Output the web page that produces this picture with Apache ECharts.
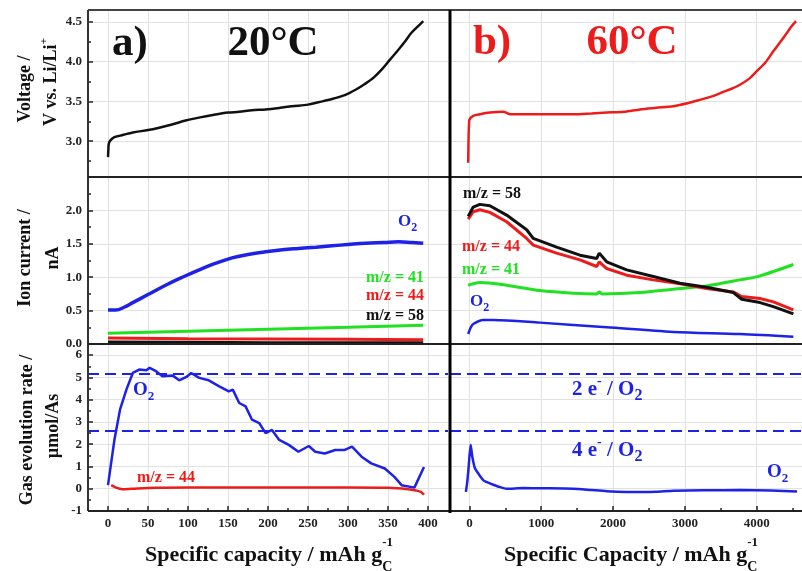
<!DOCTYPE html>
<html><head><meta charset="utf-8">
<script src="https://cdn.jsdelivr.net/npm/echarts@6/dist/echarts.min.js"></script>
<style>html,body{margin:0;padding:0;background:#fff}#c{width:802px;height:571px}</style>
</head><body><div id="c"></div>
<script>
// ---------- DATA ----------
// a) 20°C voltage profile
const voltA_x = [0,0.5,1,3,8,15,31,50,64,80,97,115,131,150,164,180,197,215,230,250,263,280,296,310,321,332,342,352,363,371,379,387,394];
const voltA_y = [2.80,2.90,2.97,3.01,3.05,3.07,3.11,3.14,3.17,3.21,3.26,3.30,3.33,3.36,3.37,3.39,3.40,3.42,3.44,3.46,3.49,3.53,3.58,3.65,3.72,3.80,3.90,4.02,4.15,4.25,4.36,4.44,4.51];
// b) 60°C voltage profile
const voltB_x = [-17,-14,-10,-5,0,53,150,285,471,564,800,982,1200,1446,1700,1911,2150,2375,2600,2839,3050,3210,3400,3535,3650,3767,3900,4000,4120,4231,4330,4418,4480,4547];
const voltB_y = [2.73,2.90,3.10,3.22,3.27,3.32,3.34,3.36,3.37,3.34,3.34,3.34,3.34,3.34,3.35,3.36,3.37,3.40,3.42,3.44,3.48,3.52,3.57,3.62,3.66,3.71,3.79,3.88,3.99,4.13,4.25,4.36,4.44,4.51];
// a) ion currents
const ionA_x = [0,10,20,31,50,72,95,114,135,155,175,197,218,238,260,280,300,322,345,363,380,394];
const ionA_O2 = [0.51,0.51,0.55,0.62,0.74,0.88,1.01,1.11,1.21,1.29,1.34,1.38,1.41,1.43,1.45,1.47,1.49,1.51,1.52,1.53,1.52,1.51];
const ionA_lx = [0,100,200,300,394];
const ionA_m41 = [0.16,0.19,0.22,0.25,0.28];
const ionA_m44 = [0.09,0.08,0.075,0.07,0.065];
const ionA_m58 = [0.03,0.025,0.02,0.02,0.02];
// b) ion currents
const ionB_x = [-17,53,146,285,518,797,889,1214,1539,1772,1808,1911,2189,2560,2932,3303,3674,3791,4046,4231,4510];
const ionB_m58 = [1.91,2.05,2.09,2.07,1.93,1.71,1.58,1.45,1.33,1.28,1.36,1.23,1.11,1.01,0.91,0.85,0.77,0.67,0.62,0.56,0.45];
const ionB_m44 = [1.87,1.98,2.01,1.97,1.83,1.58,1.48,1.36,1.26,1.16,1.23,1.13,1.03,0.96,0.90,0.83,0.78,0.71,0.68,0.63,0.51];
const ionB41_x = [-17,146,518,982,1446,1772,1808,1850,2375,2839,3303,3767,4046,4510];
const ionB_m41 = [0.88,0.92,0.88,0.80,0.76,0.75,0.78,0.75,0.77,0.82,0.87,0.96,1.02,1.19];
const ionBO2_x = [-17,20,53,192,332,982,1911,2839,3767,4510];
const ionB_O2 = [0.15,0.25,0.30,0.36,0.36,0.32,0.25,0.18,0.15,0.11];
// a) gas evolution rates
const gasA_x = [0,8,15,23,31,39,48,52,60,68,81,89,98,104,114,126,139,151,156,164,172,180,189,197,205,214,226,238,251,259,271,284,296,305,317,329,346,358,367,383,395];
const gasA_O2 = [0.16,2.19,3.55,4.45,5.20,5.35,5.32,5.43,5.28,5.05,5.08,4.87,5.02,5.20,4.98,4.87,4.60,4.37,4.45,3.85,3.70,3.10,2.95,2.50,2.64,2.19,1.97,1.66,1.92,1.66,1.58,1.74,1.74,1.89,1.44,1.14,0.91,0.53,0.16,0.05,0.98];
const gasA44_x = [4,10,18,30,60,100,200,300,350,375,385,391,395];
const gasA_m44 = [0.16,0.05,-0.02,0.0,0.04,0.05,0.05,0.05,0.04,-0.02,-0.08,-0.14,-0.27];
// b) gas evolution rate
const gasB_x = [-49,-30,-10,17,40,77,123,192,260,332,420,518,750,1000,1446,1700,1911,2375,2600,2839,3303,3767,4200,4560];
const gasB_O2 = [-0.14,0.3,1.0,1.97,1.45,0.92,0.69,0.39,0.27,0.18,0.08,0.0,0.03,0.02,0.0,-0.06,-0.11,-0.15,-0.14,-0.09,-0.07,-0.06,-0.08,-0.12];
// reference rates (2 e-/O2 and 4 e-/O2)
const refRates = [5.18, 2.59];
// ticks
const xTicksA = [0,50,100,150,200,250,300,350,400];
const xMinorA = [25,75,125,175,225,275,325,375];
const xTicksB = [0,1000,2000,3000,4000];
const xMinorB = [500,1500,2500,3500,4500];
const yTicksV = [3.0,3.5,4.0,4.5];
const yMinorV = [2.75,3.25,3.75,4.25];
const yTicksI = [0,0.5,1.0,1.5,2.0];
const yMinorI = [0.25,0.75,1.25,1.75,2.25];
const yTicksG = [-1,0,1,2,3,4,5,6];
const yMinorG = [-0.5,0.5,1.5,2.5,3.5,4.5,5.5];

// ---------- STYLE / LAYOUT ----------
const FF = '"Liberation Serif","Times New Roman",serif';
const C_BLUE='#1e22e6', C_RED='#ee1b1b', C_GREEN='#22e022', C_BLACK='#111111';
const zip = (a,b)=>a.slice(0,Math.min(a.length,b.length)).map((v,i)=>[v,b[i]]);

const grids = [
  {left:88, top:10, width:360, height:167},
  {left:88, top:177, width:360, height:167},
  {left:88, top:344, width:360, height:167},
  {left:450, top:10, width:352, height:167},
  {left:450, top:177, width:352, height:167},
  {left:450, top:344, width:352, height:167}
].map(g=>Object.assign({show:false, containLabel:false, outerBoundsMode:'none'}, g));

const xRangeA=[-25,425], xRangeB=[-270,4630];
const yRanges=[[2.55,4.65],[0,2.5],[-1,6.5]];
const yMaj=[yTicksV,yTicksI,yTicksG], yMin=[yMinorV,yMinorI,yMinorG];
const yFmt=[v=>v.toFixed(1), v=>v.toFixed(1), v=>String(v)];
const tickStyle={color:'#222', width:1.5};
const labelStyle={color:'#222', fontFamily:FF, fontWeight:'bold', fontSize:13};
const noLine={show:false, onZero:false};

const xAxes=[], yAxes=[];
for(let g=0;g<6;g++){
  const isLeft=g<3, row=g%3, isBottom=row===2;
  const xr=isLeft?xRangeA:xRangeB;
  const xmaj=isLeft?xTicksA:xTicksB, xmin=isLeft?xMinorA:xMinorB;
  xAxes[g]={type:'value', gridIndex:g, position:'bottom', min:xr[0], max:xr[1], axisLine:noLine,
    axisTick:{show:isBottom, inside:true, length:5, customValues:xmaj, lineStyle:tickStyle},
    axisLabel:Object.assign({show:isBottom, customValues:xmaj, margin:6, formatter:v=>String(v)}, labelStyle),
    splitLine:{show:true, lineStyle:{color:'#e2e2e2', width:1}}};
  xAxes[6+g]={type:'value', gridIndex:g, position:'bottom', min:xr[0], max:xr[1], axisLine:noLine,
    axisTick:{show:isBottom, inside:true, length:3, customValues:xmin, lineStyle:tickStyle},
    axisLabel:{show:false, customValues:xmin}, splitLine:{show:false}};
  const yr=yRanges[row];
  yAxes[g]={type:'value', gridIndex:g, position:'left', min:yr[0], max:yr[1], axisLine:noLine,
    axisTick:{show:isLeft, inside:true, length:5, customValues:yMaj[row], lineStyle:tickStyle},
    axisLabel:Object.assign({show:isLeft, customValues:yMaj[row], margin:6, formatter:yFmt[row]}, labelStyle),
    splitLine:{show:true, lineStyle:{color:'#e2e2e2', width:1}}};
  yAxes[6+g]={type:'value', gridIndex:g, position:'left', min:yr[0], max:yr[1], axisLine:noLine,
    axisTick:{show:isLeft, inside:true, length:3, customValues:yMin[row], lineStyle:tickStyle},
    axisLabel:{show:false, customValues:yMin[row]}, splitLine:{show:false}};
}

function ser(g, xs, ys, color, width, smooth, extra){
  return Object.assign({type:'line', xAxisIndex:g, yAxisIndex:g, data:zip(xs,ys), showSymbol:false, symbol:'none',
    smooth:smooth||false, lineStyle:{color, width}, itemStyle:{color}, animation:false, silent:true, z:3}, extra||{});
}
const refLines = {markLine:{silent:true, symbol:['none','none'], label:{show:false},
  lineStyle:{color:C_BLUE, width:2, type:[11,6]}, data:refRates.map(v=>({yAxis:v}))}};

const series=[
  ser(0, voltA_x, voltA_y, C_BLACK, 2.5, 0.3),
  ser(3, voltB_x, voltB_y, C_RED, 2.5, 0.3),
  ser(1, ionA_lx, ionA_m58, C_BLACK, 3, false),
  ser(1, ionA_lx, ionA_m44, C_RED, 3, false),
  ser(1, ionA_lx, ionA_m41, C_GREEN, 3, false),
  ser(1, ionA_x, ionA_O2, C_BLUE, 3.5, 0.4),
  ser(4, ionB41_x, ionB_m41, C_GREEN, 3, 0.3),
  ser(4, ionBO2_x, ionB_O2, C_BLUE, 2.5, 0.3),
  ser(4, ionB_x, ionB_m44, C_RED, 3, false),
  ser(4, ionB_x, ionB_m58, C_BLACK, 3, false),
  ser(2, gasA44_x, gasA_m44, C_RED, 2.5, 0.3),
  ser(2, gasA_x, gasA_O2, C_BLUE, 2.5, false, refLines),
  ser(5, gasB_x, gasB_O2, C_BLUE, 2.5, 0.2, refLines)
];

// ---------- TEXT HELPERS ----------
const mctx=document.createElement('canvas').getContext('2d');
const fnt=s=>'bold '+s+'px '+FF;
function tw(t,s){ mctx.font=fnt(s); return mctx.measureText(t).width; }
function textGroup(x,y,pieces,align,color,rotation){
  let cur=0, prevX=0, prevW=0; const placed=[];
  pieces.forEach(p=>{ const w=tw(p.t,p.s); let px;
    if(p.stack){ px=prevX; cur=prevX+Math.max(prevW,w);} else { px=cur; cur+=w; }
    placed.push({p,px}); prevX=px; prevW=w; });
  const off = align==='center' ? -cur/2 : (align==='right' ? -cur : 0);
  return {type:'group', x, y, rotation:rotation||0, silent:true,
    children: placed.map(({p,px})=>({type:'text', x:px+off, y:p.dy||0, z:100, silent:true,
      style:{text:p.t, fill:p.c||color, font:fnt(p.s), align:'left', verticalAlign:'middle', textAlign:'left', textVerticalAlign:'middle'}}))};
}
const lineEl=(x1,y1,x2,y2,w,c)=>({type:'line', silent:true, z:50, shape:{x1,y1,x2,y2}, style:{stroke:c, lineWidth:w}});
const O2 = (s,ds,dy)=>[{t:'O',s:s},{t:'2',s:ds,dy:dy}];
const R = Math.PI/2;

const graphics=[
  lineEl(88,10,802,10,2,'#444'),
  lineEl(88,10,88,511,2,'#333'),
  lineEl(88,511,802,511,2,'#222'),
  lineEl(88,177,802,177,2,'#222'),
  lineEl(88,344,802,344,2,'#222'),
  lineEl(450,10,450,513,3,'#000'),
  // panel titles
  textGroup(130,44,[{t:'a)',s:43}],'center',C_BLACK),
  textGroup(273,44,[{t:'20°C',s:43}],'center',C_BLACK),
  textGroup(492,43,[{t:'b)',s:43}],'center',C_RED),
  textGroup(632,43,[{t:'60°C',s:43}],'center',C_RED),
  // y titles
  textGroup(25,89,[{t:'Voltage /',s:18}],'center',C_BLACK,R),
  textGroup(51,82,[{t:'V vs. Li/Li',s:18},{t:'+',s:11,dy:-7}],'center',C_BLACK,R),
  textGroup(25,258,[{t:'Ion current /',s:18}],'center',C_BLACK,R),
  textGroup(53,258,[{t:'nA',s:18}],'center',C_BLACK,R),
  textGroup(27,430,[{t:'Gas evolution rate /',s:18}],'center',C_BLACK,R),
  textGroup(53,426,[{t:'µmol/As',s:18}],'center',C_BLACK,R),
  // x titles
  textGroup(269,555,[{t:'Specific capacity / mAh g',s:22},{t:'-1',s:13,dy:-12},{t:'C',s:14,dy:12,stack:true}],'center',C_BLACK),
  textGroup(631,555,[{t:'Specific Capacity / mAh g',s:22},{t:'-1',s:13,dy:-12},{t:'C',s:14,dy:12,stack:true}],'center',C_BLACK),
  // middle-left labels
  textGroup(398,222,O2(17,12,6),'left',C_BLUE),
  textGroup(424,278,[{t:'m/z = 41',s:16}],'right',C_GREEN),
  textGroup(424,296,[{t:'m/z = 44',s:16}],'right',C_RED),
  textGroup(424,316,[{t:'m/z = 58',s:16}],'right',C_BLACK),
  // middle-right labels
  textGroup(463,194,[{t:'m/z = 58',s:16}],'left',C_BLACK),
  textGroup(462,247,[{t:'m/z = 44',s:16}],'left',C_RED),
  textGroup(462,270,[{t:'m/z = 41',s:16}],'left',C_GREEN),
  textGroup(470,302,O2(17,12,6),'left',C_BLUE),
  // bottom-left labels
  textGroup(133,390,O2(19,13,7),'left',C_BLUE),
  textGroup(137,478,[{t:'m/z = 44',s:16}],'left',C_RED),
  // bottom-right labels
  textGroup(572,390,[{t:'2 e',s:21},{t:'-',s:14,dy:-9},{t:' / O',s:21},{t:'2',s:16,dy:6}],'left',C_BLUE),
  textGroup(572,451,[{t:'4 e',s:21},{t:'-',s:14,dy:-9},{t:' / O',s:21},{t:'2',s:16,dy:6}],'left',C_BLUE),
  textGroup(767,472,O2(19,13,7),'left',C_BLUE)
];

const chart=echarts.init(document.getElementById('c'),null,{renderer:'canvas'});
chart.setOption({animation:false, backgroundColor:'#fff', grid:grids, xAxis:xAxes, yAxis:yAxes, series, graphic:graphics});
</script></body></html>
